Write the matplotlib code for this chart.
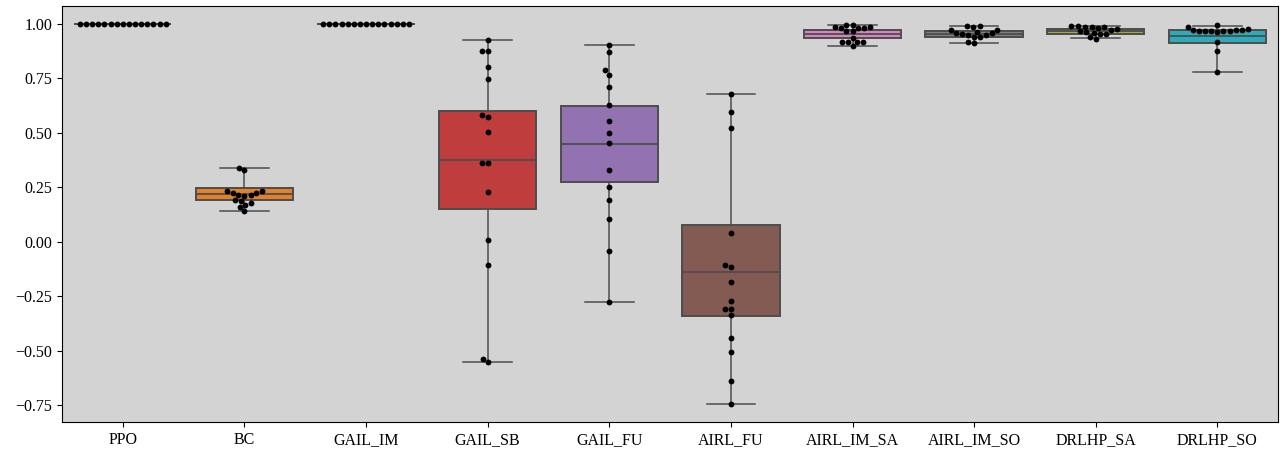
import numpy as np
import pandas as pd
import seaborn as sns
from matplotlib import pyplot as plt

plt.rcParams['font.family'] = ['Liberation Serif', 'DejaVu Serif']
plt.rcParams['font.size'] = 11.5

# method names
methods = ['PPO', 'BC', 'GAIL_IM', 'GAIL_SB', 'GAIL_FU', 'AIRL_FU',
           'AIRL_IM_SA', 'AIRL_IM_SO', 'DRLHP_SA', 'DRLHP_SO']

# per-run scores (swarm points)
ppo = [1.0, 1.0, 1.0, 1.0, 1.0, 1.0, 1.0, 1.0, 1.0, 1.0, 1.0, 1.0, 1.0, 1.0, 1.0]
bc = [0.339, 0.330, 0.231, 0.231, 0.224, 0.224, 0.216, 0.216, 0.212, 0.193,
      0.189, 0.178, 0.170, 0.160, 0.143]
gail_im = [1.0, 1.0, 1.0, 1.0, 1.0, 1.0, 1.0, 1.0, 1.0, 1.0, 1.0, 1.0, 1.0, 1.0, 1.0]
gail_sb = [0.928, 0.874, 0.874, 0.802, 0.747, 0.581, 0.574, 0.506, 0.360, 0.360,
           0.230, 0.009, -0.107, -0.537, -0.552]
gail_fu = [0.905, 0.871, 0.787, 0.767, 0.710, 0.627, 0.554, 0.497, 0.454, 0.328,
           0.250, 0.190, 0.103, -0.041, -0.279]
airl_fu = [0.680, 0.595, 0.521, 0.040, -0.106, -0.116, -0.186, -0.273, -0.308,
           -0.308, -0.337, -0.443, -0.505, -0.638, -0.744]
airl_im_sa = [0.997, 0.993, 0.988, 0.985, 0.980, 0.980, 0.980, 0.968, 0.966,
              0.936, 0.919, 0.919, 0.918, 0.917, 0.900]
airl_im_so = [0.991, 0.989, 0.985, 0.971, 0.971, 0.965, 0.960, 0.957, 0.955,
              0.950, 0.950, 0.941, 0.941, 0.916, 0.914]
drlhp_sa = [0.991, 0.990, 0.988, 0.986, 0.985, 0.981, 0.975, 0.972, 0.966,
            0.962, 0.960, 0.955, 0.953, 0.940, 0.933]
drlhp_so = [0.993, 0.987, 0.975, 0.974, 0.972, 0.970, 0.969, 0.968, 0.968,
            0.967, 0.966, 0.965, 0.919, 0.878, 0.779]

# box statistics as drawn
q1 = [1.0, 0.192, 1.0, 0.149, 0.272, -0.339, 0.937, 0.942, 0.956, 0.914]
med = [1.0, 0.218, 1.0, 0.376, 0.448, -0.141, 0.954, 0.954, 0.966, 0.945]
q3 = [1.0, 0.245, 1.0, 0.600, 0.623, 0.075, 0.971, 0.968, 0.979, 0.972]
whislo = [1.0, 0.143, 1.0, -0.552, -0.279, -0.744, 0.900, 0.914, 0.934, 0.779]
whishi = [1.0, 0.339, 1.0, 0.928, 0.905, 0.680, 0.995, 0.991, 0.991, 0.991]

runs = [ppo, bc, gail_im, gail_sb, gail_fu, airl_fu,
        airl_im_sa, airl_im_so, drlhp_sa, drlhp_so]
df = pd.DataFrame({
    'method': np.repeat(methods, [len(r) for r in runs]),
    'score': np.concatenate(runs),
})

fig = plt.figure(figsize=(12.82, 4.53), dpi=100)
ax = fig.add_axes([0.0484, 0.0684, 0.9486, 0.9186])
ax.set_facecolor('lightgray')

colors = sns.color_palette('tab10', n_colors=10, desat=0.75)
line_c = '0.3'

stats = [dict(q1=a, med=b, q3=c, whislo=d, whishi=e, label=m)
         for a, b, c, d, e, m in zip(q1, med, q3, whislo, whishi, methods)]
bp = ax.bxp(stats, positions=range(len(methods)), widths=0.8,
            showfliers=False, patch_artist=True,
            boxprops=dict(edgecolor=line_c, linewidth=1.4),
            medianprops=dict(color=line_c, linewidth=1.3),
            whiskerprops=dict(color=line_c, linewidth=1.1),
            capprops=dict(color=line_c, linewidth=1.1),
            capwidths=0.4)
for patch, col in zip(bp['boxes'], colors):
    patch.set_facecolor(col)

sns.swarmplot(data=df, x='method', y='score', order=methods,
              color='black', size=4.2, ax=ax, zorder=5)

ax.set_xlim(-0.5, len(methods) - 0.5)
ax.set_ylim(-0.828, 1.083)
ax.set_yticks([-0.75, -0.5, -0.25, 0.0, 0.25, 0.5, 0.75, 1.0])
ax.set_yticklabels(['−0.75', '−0.50', '−0.25', '0.00', '0.25', '0.50', '0.75', '1.00'])
ax.set_xticks(range(len(methods)))
ax.set_xticklabels(methods)
ax.set_xlabel('')
ax.set_ylabel('')
for s in ax.spines.values():
    s.set_color('black')

fig.savefig('out.png', dpi=100)
plt.close()
